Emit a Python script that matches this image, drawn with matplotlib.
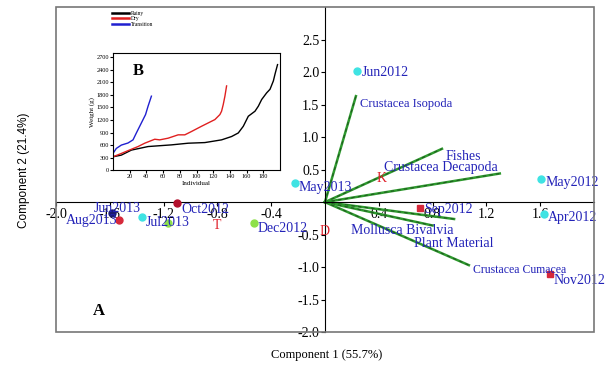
import numpy as np
import matplotlib
matplotlib.use('Agg')
import matplotlib.pyplot as plt
from matplotlib.patches import Rectangle

plt.rcParams['font.family'] = 'Liberation Serif'

# sample scores (month), x = component 1, y = component 2
months = ['Jun2012', 'May2013', 'May2012', 'Apr2012', 'Nov2012', 'Sep2012',
          'Oct2012', 'Dec2012', 'Jul2013', 'Jun2013', 'Aug2013', '']
month_x = [0.24, -0.22, 1.61, 1.63, 1.67, 0.71, -1.10, -0.53, -1.36, -1.58, -1.53, -1.17]
month_y = [2.02, 0.29, 0.35, -0.18, -1.10, -0.09, -0.02, -0.32, -0.23, -0.17, -0.28, -0.32]
month_col = ['#3fe3e3', '#3fe3e3', '#3fe3e3', '#3fe3e3', '#d6283a', '#d6283a',
             '#b3102c', '#8ee04a', '#3fe3e3', '#1a1a70', '#d6283a', '#8ee04a']
month_mk = ['o', 'o', 'o', 'o', 's', 's', 'o', 'o', 'o', 'o', 'o', 'o']

# diet item loadings
items = ['Crustacea Isopoda', 'Fishes', 'Crustacea Decapoda', 'Mollusca Bivalvia',
         'Plant Material', 'Crustacea Cumacea']
item_x = [0.23, 0.87, 1.30, 0.96, 0.80, 1.07]
item_y = [1.63, 0.82, 0.44, -0.26, -0.36, -0.97]

# season centroids
seasons = ['K', 'T', 'D']
season_x = [0.42, -0.80, 0.0]
season_y = [0.36, -0.36, -0.45]

# inset: sorted weights per season
rainy_n = [0, 10, 22, 42, 70, 90, 110, 130, 142, 150, 156, 162, 170, 174, 178, 184, 188, 192, 194, 197]
rainy_w = [320, 360, 480, 565, 605, 645, 660, 725, 805, 890, 1050, 1290, 1410, 1530, 1690, 1850, 1935, 2135, 2300, 2525]
dry_n = [0, 10, 22, 30, 38, 50, 56, 66, 78, 86, 94, 106, 114, 122, 128, 130, 132, 134, 136]
dry_w = [320, 400, 500, 565, 645, 740, 725, 765, 845, 845, 925, 1050, 1130, 1210, 1330, 1410, 1570, 1770, 2015]
trans_n = [0, 4, 10, 18, 24, 28, 34, 39, 42, 46]
trans_w = [400, 520, 600, 650, 725, 890, 1130, 1330, 1530, 1770]

label_col = '#2323b8'

fig = plt.figure(figsize=(6.12, 3.74), dpi=100)
ax = fig.add_axes([0.0915, 0.112, 0.879, 0.869])
ax.set_xlim(-2.0, 2.0)
ax.set_ylim(-2.0, 3.0)

for s in ['left', 'bottom']:
    ax.spines[s].set_position(('data', 0))
    ax.spines[s].set_color('black')
for s in ['top', 'right']:
    ax.spines[s].set_visible(False)
ax.add_patch(Rectangle((0, 0), 1, 1, transform=ax.transAxes, fill=False,
                       edgecolor='#777777', lw=1.2, clip_on=False, zorder=5))

ax.set_xticks([-2.0, -1.6, -1.2, -0.8, -0.4, 0.4, 0.8, 1.2, 1.6])
ax.set_yticks([-2.0, -1.5, -1.0, -0.5, 0.5, 1.0, 1.5, 2.0, 2.5])
ax.xaxis.set_major_formatter(plt.FormatStrFormatter('%.1f'))
ax.yaxis.set_major_formatter(plt.FormatStrFormatter('%.1f'))
ax.tick_params(labelsize=10, length=3, pad=1)

# vectors
for x, y, name in zip(item_x, item_y, items):
    ax.plot([0, x], [0, y], color='#2e9a2e', lw=1.8, zorder=2)
    ax.plot([0, x], [0, y], color='#1f5a1f', lw=0.8, ls=(0, (3, 3)), zorder=2)
item_off = [(0.03, -0.12), (0.03, -0.12), (-0.86, 0.1), (-0.77, -0.17),
            (-0.14, -0.28), (0.03, -0.07)]
item_fs = [9, 10, 10, 10, 10, 8.5]
for x, y, name, (dx, dy), fs in zip(item_x, item_y, items, item_off, item_fs):
    ax.text(x + dx, y + dy, name, color=label_col, fontsize=fs, va='center', zorder=4)

# month points
for x, y, c, m, name in zip(month_x, month_y, month_col, month_mk, months):
    ax.plot(x, y, marker=m, color=c, ms=5, ls='none', zorder=3)
month_off = [(0.03, -0.03), (0.02, -0.06), (0.03, -0.05), (0.03, -0.06), (0.03, -0.1),
             (0.03, -0.02), (0.03, -0.1), (0.03, -0.08), (0.03, -0.08), (-0.14, 0.07), (-0.4, 0.0), (0, 0)]
for x, y, name, (dx, dy) in zip(month_x, month_y, months, month_off):
    ax.text(x + dx, y + dy, name, color=label_col, fontsize=10, va='center', zorder=4)

for x, y, name in zip(season_x, season_y, seasons):
    ax.text(x, y, name, color='#e0202a', fontsize=10, ha='center', va='center', zorder=4)

ax.text(-1.68, -1.68, 'A', fontsize=12, fontweight='bold', ha='center', va='center')
fig.text(0.533, 0.05, 'Component 1 (55.7%)', fontsize=9, ha='center', va='center')
fig.text(0.04, 0.545, 'Component 2 (21.4%)', fontsize=8.5, rotation=90, ha='center',
         va='center', family='Liberation Sans')

# inset B
ins = fig.add_axes([0.1846, 0.545, 0.273, 0.313])
ins.plot(rainy_n, rainy_w, color='black', lw=1.0, label='Rainy')
ins.plot(dry_n, dry_w, color='#e02020', lw=1.0, label='Dry')
ins.plot(trans_n, trans_w, color='#2020d0', lw=1.0, label='Transition')
ins.set_xlim(0, 200)
ins.set_ylim(0, 2800)
ins.set_xticks(range(20, 200, 20))
ins.set_yticks(range(0, 2800, 300))
ins.tick_params(labelsize=4.5, length=2, pad=1)
ins.set_xlabel('Individual', fontsize=5, labelpad=1)
ins.set_ylabel('Weight (g)', fontsize=5, labelpad=1)
ins.text(0.15, 0.85, 'B', transform=ins.transAxes, fontsize=12, fontweight='bold',
         ha='center', va='center')
leg = ins.legend(loc='lower left', bbox_to_anchor=(-0.02, 1.2), fontsize=4, frameon=False,
                 handlelength=3, labelspacing=0.1, borderpad=0, handletextpad=0.3)
for h in leg.get_lines():
    h.set_linewidth(1.8)

fig.savefig('out.png', dpi=100)
